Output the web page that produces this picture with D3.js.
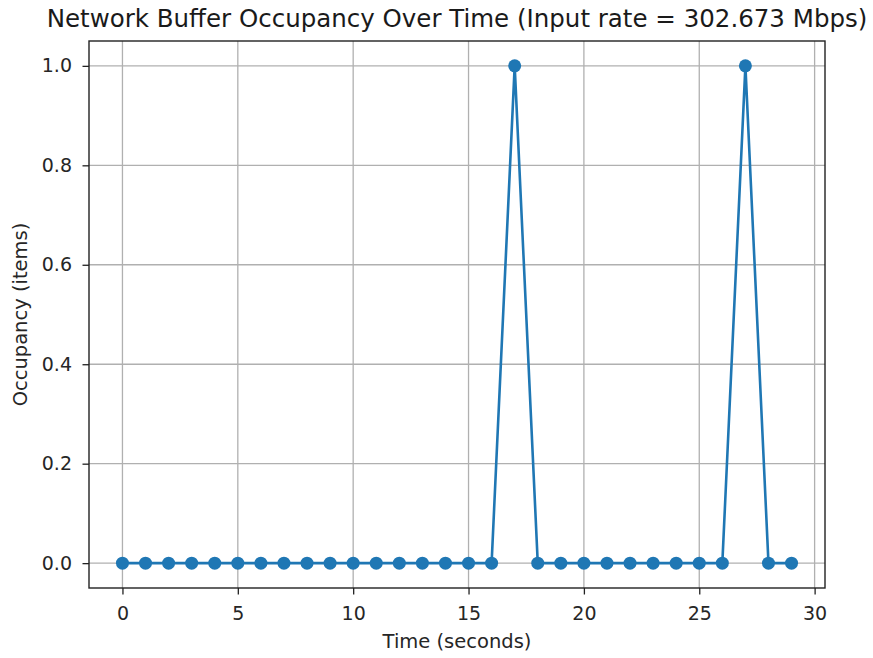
<!DOCTYPE html>
<html>
<head>
<meta charset="utf-8">
<script src="https://cdn.jsdelivr.net/npm/d3@7"></script>
<style>
  html, body { margin: 0; padding: 0; background: #fff; }
  svg { display: block; font-family: "DejaVu Sans", sans-serif; }
</style>
</head>
<body>
<svg id="chart" width="873" height="658"></svg>
<script>
// Buffer occupancy samples, one per second
const times = [0,1,2,3,4,5,6,7,8,9,10,11,12,13,14,15,16,17,18,19,20,21,22,23,24,25,26,27,28,29];
const occupancy = [0,0,0,0,0,0,0,0,0,0,0,0,0,0,0,0,0,1,0,0,0,0,0,0,0,0,0,1,0,0];
const xTicks = [0,5,10,15,20,25,30];
const yTicks = [0.0,0.2,0.4,0.6,0.8,1.0];
const titleText = "Network Buffer Occupancy Over Time (Input rate = 302.673 Mbps)";
const xLabel = "Time (seconds)";
const yLabel = "Occupancy (items)";

const W = 873, H = 658;
const box = { left: 89, right: 825, top: 41, bottom: 588 };
const blue = "#1f77b4";

const svg = d3.select("#chart");

// 5% margins around the data range on both axes
const xMin = d3.min(times), xMax = d3.max(times);
const xPad = (xMax - xMin) * 0.05;
const x = d3.scaleLinear().domain([xMin - xPad, xMax + xPad]).range([box.left, box.right]);
const yMin = d3.min(occupancy), yMax = d3.max(occupancy);
const yPad = (yMax - yMin) * 0.05;
const y = d3.scaleLinear().domain([yMin - yPad, yMax + yPad]).range([box.bottom, box.top]);

// grid
const grid = svg.append("g").attr("stroke", "#b0b0b0").attr("stroke-width", 1.3);
grid.selectAll("line.vx").data(xTicks).join("line")
  .attr("x1", d => x(d)).attr("x2", d => x(d))
  .attr("y1", box.top).attr("y2", box.bottom);
grid.selectAll("line.hy").data(yTicks).join("line")
  .attr("x1", box.left).attr("x2", box.right)
  .attr("y1", d => y(d)).attr("y2", d => y(d));

// axes
const tickFmtY = d3.format(".1f");
const xAxis = svg.append("g").attr("transform", `translate(0,${box.bottom})`)
  .call(d3.axisBottom(x).tickValues(xTicks).tickSize(6.5).tickPadding(11).tickFormat(d3.format("d")));
const yAxis = svg.append("g").attr("transform", `translate(${box.left},0)`)
  .call(d3.axisLeft(y).tickValues(yTicks).tickSize(6.5).tickPadding(10.5).tickFormat(tickFmtY));
[xAxis, yAxis].forEach(a => {
  a.select(".domain").remove();
  a.selectAll(".tick line").attr("stroke", "#222").attr("stroke-width", 1.3);
  a.selectAll(".tick text").attr("fill", "#262626")
    .style("font-family", "DejaVu Sans, sans-serif").style("font-size", "19px");
});
xAxis.selectAll(".tick text").attr("dy", "0.76em");

// frame
svg.append("rect")
  .attr("x", box.left).attr("y", box.top)
  .attr("width", box.right - box.left).attr("height", box.bottom - box.top)
  .attr("fill", "none").attr("stroke", "#222").attr("stroke-width", 1.4);

// series line + markers
const pts = times.map((t, i) => [t, occupancy[i]]);
svg.append("clipPath").attr("id", "plotclip").append("rect")
  .attr("x", box.left).attr("y", box.top)
  .attr("width", box.right - box.left).attr("height", box.bottom - box.top);
const plot = svg.append("g").attr("clip-path", "url(#plotclip)");
plot.append("path")
  .datum(pts)
  .attr("fill", "none").attr("stroke", blue).attr("stroke-width", 2.6)
  .attr("stroke-linejoin", "round")
  .attr("d", d3.line().x(d => x(d[0])).y(d => y(d[1])));
plot.selectAll("circle").data(pts).join("circle")
  .attr("cx", d => x(d[0])).attr("cy", d => y(d[1])).attr("r", 6.5)
  .attr("fill", blue);

// title and axis labels
svg.append("text")
  .attr("x", (box.left + box.right) / 2).attr("y", 27)
  .attr("text-anchor", "middle").attr("fill", "#1a1a1a")
  .style("font-size", "24.5px")
  .text(titleText);
svg.append("text")
  .attr("x", (box.left + box.right) / 2).attr("y", 648)
  .attr("text-anchor", "middle").attr("fill", "#262626")
  .style("font-size", "19.5px")
  .text(xLabel);
svg.append("text")
  .attr("transform", `translate(27,${(box.top + box.bottom) / 2}) rotate(-90)`)
  .attr("text-anchor", "middle").attr("fill", "#262626")
  .style("font-size", "19.5px")
  .text(yLabel);
</script>
</body>
</html>
